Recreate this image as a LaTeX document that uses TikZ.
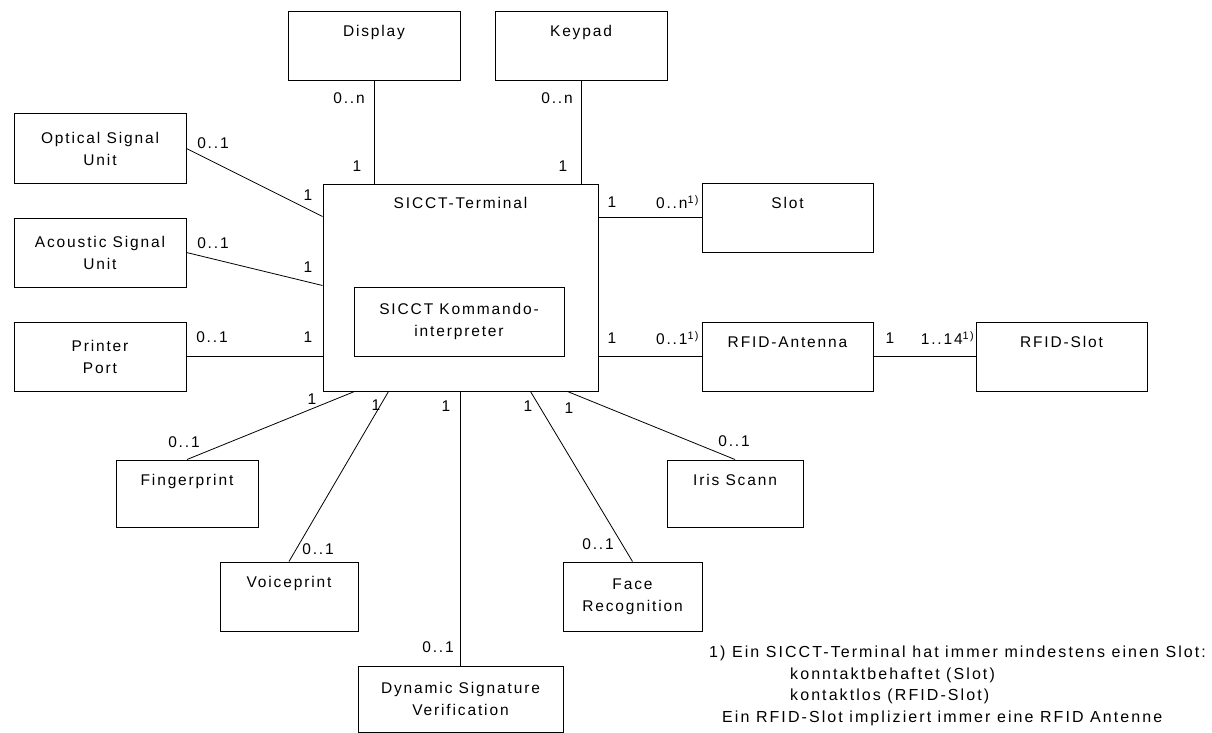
\documentclass[tikz,border=0pt]{standalone}
\usepackage{fontspec}
\setmainfont{Liberation Sans}[LetterSpace=12]
\begin{document}
\begin{tikzpicture}[x=1pt,y=-1pt,font=\fontsize{15.5}{22}\selectfont]
 \tikzset{cls/.style  = {draw, line width=1pt, minimum width=172pt,
                         minimum height=69pt, inner sep=0pt,
                         text height=25pt, text depth=44pt},
          cls2/.style = {draw, line width=1pt, minimum width=172pt,
                         minimum height=69pt, inner sep=0pt, align=center},
          EdgeStyle/.style = {line width=0.8pt},
          mult/.style = {inner sep=0pt}}
  \useasboundingbox (0,0) rectangle (1212,733);

  % the terminal in the middle
  \node[cls, minimum width=275pt, minimum height=207pt,
        text height=24.5pt, text depth=182.5pt] (term) at (460.5,287.5) {SICCT-Terminal};
  \node[cls2, minimum width=210pt] (kmd) at (459,321.5) {SICCT Kommando-\\interpreter};

  % components
  \node[cls] (disp)  at (374,46.5)   {Display};
  \node[cls] (keyp)  at (581,46.5)   {Keypad};
  \node[cls2] (opt)  at (100,148.5)  {Optical Signal\\Unit};
  \node[cls2] (aco)  at (100,252.5)  {Acoustic Signal\\Unit};
  \node[cls2] (prn)  at (100,356.5)  {Printer\\Port};
  \node[cls, minimum width=142pt, minimum height=67pt, text depth=42pt] (fing) at (187,493.5) {Fingerprint};
  \node[cls, minimum width=138pt] (voice) at (289,596.5) {Voiceprint};
  \node[cls2, minimum width=205pt, minimum height=66pt] (dsv) at (460.5,699) {Dynamic Signature\\Verification};
  \node[cls2, minimum width=139pt] (face) at (632.5,596.5) {Face\\Recognition};
  \node[cls, minimum width=136pt, minimum height=67pt, text depth=42pt] (iris) at (735,493.5) {Iris Scann};
  \node[cls, minimum width=171pt] (slot)  at (787.5,217.5)  {Slot};
  \node[cls, minimum width=171pt] (ant)   at (787.5,356.5)  {RFID-Antenna};
  \node[cls, minimum width=171pt] (rslot) at (1061.5,356.5) {RFID-Slot};

  % associations
  \draw[EdgeStyle] (disp.south) -- (disp.south |- term.north);
  \draw[EdgeStyle] (keyp.south) -- (keyp.south |- term.north);
  \draw[EdgeStyle] (opt.east) -- ([yshift=-33pt]term.north west);
  \draw[EdgeStyle] (aco.east) -- ([yshift=-102pt]term.north west);
  \draw[EdgeStyle] (prn.east) -- (prn.east -| term.west);
  \draw[EdgeStyle] (fing.north) -- ([xshift=32pt]term.south west);
  \draw[EdgeStyle] (voice.north) -- ([xshift=66pt]term.south west);
  \draw[EdgeStyle] (dsv.north) -- (dsv.north |- term.south);
  \draw[EdgeStyle] (face.north) -- ([xshift=-68pt]term.south east);
  \draw[EdgeStyle] (iris.north) -- ([xshift=-31pt]term.south east);
  \draw[EdgeStyle] (slot.west -| term.east) -- (slot.west);
  \draw[EdgeStyle] (ant.west -| term.east) -- (ant.west);
  \draw[EdgeStyle] (ant.east) -- (rslot.west);

  % multiplicities
  \node[mult] (m-disp)  at (349,98)  {0..n};
  \node[mult] (m-disp1) at (357,166) {1};
  \node[mult] (m-keyp)  at (557,98)  {0..n};
  \node[mult] (m-keyp1) at (563,166) {1};
  \node[mult] (m-opt)   at (213,143) {0..1};
  \node[mult] (m-opt1)  at (308,195) {1};
  \node[mult] (m-aco)   at (213,243) {0..1};
  \node[mult] (m-aco1)  at (308,267) {1};
  \node[mult] (m-prn)   at (212,337) {0..1};
  \node[mult] (m-prn1)  at (308,337) {1};
  \node[mult] (m-fing)  at (184,442) {0..1};
  \node[mult] (m-fing1) at (312,399) {1};
  \node[mult] (m-voice) at (318,549) {0..1};
  \node[mult] (m-voice1) at (376,405) {1};
  \node[mult] (m-dsv)   at (438,647) {0..1};
  \node[mult] (m-dsv1)  at (446,406) {1};
  \node[mult] (m-face)  at (598,544) {0..1};
  \node[mult] (m-face1) at (528,406) {1};
  \node[mult] (m-iris)  at (734,441) {0..1};
  \node[mult] (m-iris1) at (569,408) {1};
  \node[mult] (m-slot1) at (612,202) {1};
  \node[mult] (m-slot)  at (677.5,202) {0..n\textsuperscript{1)}};
  \node[mult] (m-ant1)  at (612,338) {1};
  \node[mult] (m-ant)   at (677.5,338) {0..1\textsuperscript{1)}};
  \node[mult] (m-rant)  at (890,338) {1};
  \node[mult] (m-rslot) at (947.5,338) {1..14\textsuperscript{1)}};

  % footnote
  \node[mult, anchor=north west, align=left,
        font=\fontsize{16}{21.5}\selectfont\addfontfeature{LetterSpace=13}] (note) at (709,646)
    {1) Ein SICCT-Terminal hat immer mindestens einen Slot:\\
     \hspace*{81pt}konntaktbehaftet (Slot)\\
     \hspace*{81pt}kontaktlos (RFID-Slot)\\
     \hspace*{13pt}Ein RFID-Slot impliziert immer eine RFID Antenne};
\end{tikzpicture}
\end{document}
